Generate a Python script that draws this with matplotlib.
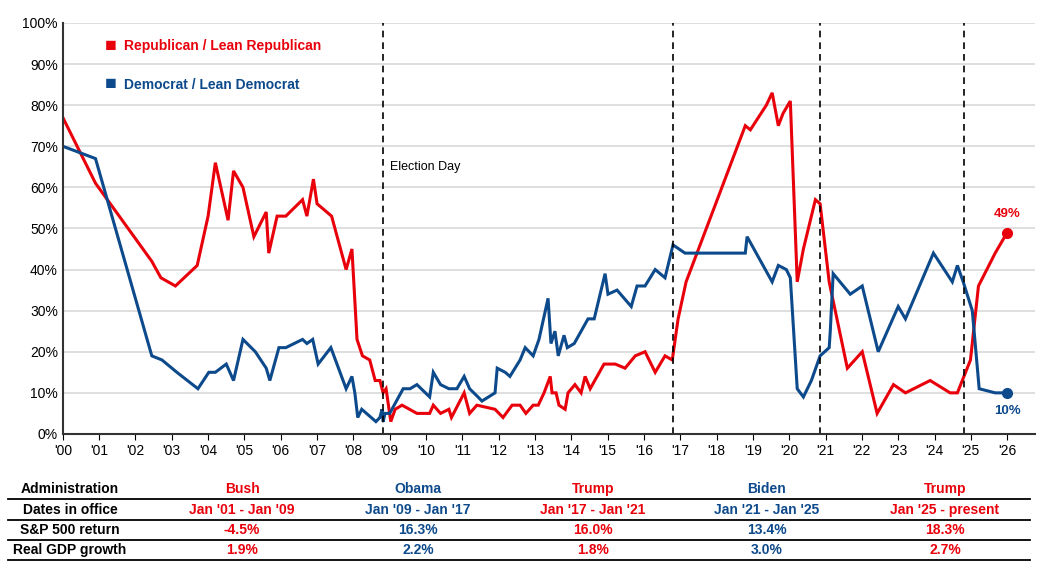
import matplotlib
matplotlib.use("Agg")
import matplotlib.pyplot as plt

plt.rcParams['font.family'] = ['Liberation Sans', 'DejaVu Sans']

RED = '#e8000b'
BLUE = '#0d4a8c'

rep_x = [2000.0, 2000.9, 2002.45, 2002.7, 2003.1, 2003.7, 2004.0, 2004.2, 2004.55, 2004.7, 2004.96,
         2005.26, 2005.6, 2005.67, 2005.9, 2006.14, 2006.6, 2006.72, 2006.9, 2007.0, 2007.4, 2007.8,
         2007.96, 2008.1, 2008.25, 2008.45, 2008.6, 2008.73, 2008.82, 2008.9, 2009.03, 2009.15, 2009.34,
         2009.75, 2010.1, 2010.2, 2010.4, 2010.63, 2010.7, 2011.05, 2011.2, 2011.4, 2011.9, 2012.12,
         2012.37, 2012.59, 2012.75, 2012.95, 2013.09, 2013.25, 2013.42, 2013.47, 2013.58, 2013.66,
         2013.83, 2013.91, 2014.10, 2014.27, 2014.38, 2014.52, 2014.71, 2014.90, 2015.21, 2015.48,
         2015.76, 2016.03, 2016.31, 2016.58, 2016.78, 2016.94, 2017.16, 2018.79, 2018.93, 2019.37,
         2019.53, 2019.70, 2019.83, 2020.03, 2020.22, 2020.39, 2020.72, 2020.85, 2021.1, 2021.6,
         2022.01, 2022.42, 2022.87, 2023.2, 2023.88, 2024.43, 2024.63, 2024.99, 2025.21, 2025.67, 2026.0]
rep_y = [77, 61, 42, 38, 36, 41, 53, 66, 52, 64, 60,
         48, 54, 44, 53, 53, 57, 53, 62, 56, 53, 40,
         45, 23, 19, 18, 13, 13, 10, 11, 3, 6, 7,
         5, 5, 7, 5, 6, 4, 10, 5, 7, 6, 4,
         7, 7, 5, 7, 7, 10, 14, 10, 10, 7,
         6, 10, 12, 10, 14, 11, 14, 17, 17, 16,
         19, 20, 15, 19, 18, 28, 37, 75, 74, 80,
         83, 75, 78, 81, 37, 45, 57, 56, 37, 16,
         20, 5, 12, 10, 13, 10, 10, 18, 36, 44, 49]

dem_x = [2000.0, 2000.9, 2002.45, 2002.73, 2003.14, 2003.72, 2004.02, 2004.2, 2004.5, 2004.7, 2004.96,
         2005.3, 2005.6, 2005.7, 2005.95, 2006.14, 2006.6, 2006.72, 2006.88, 2007.03, 2007.38, 2007.8,
         2007.96, 2008.04, 2008.12, 2008.23, 2008.62, 2008.73, 2008.79, 2008.82, 2008.87, 2009.0,
         2009.37, 2009.56, 2009.75, 2010.1, 2010.2, 2010.4, 2010.63, 2010.85, 2011.05, 2011.2, 2011.43,
         2011.54, 2011.9, 2011.96, 2012.18, 2012.31, 2012.59, 2012.73, 2012.95, 2013.11, 2013.36,
         2013.44, 2013.55, 2013.64, 2013.80, 2013.89, 2014.08, 2014.46, 2014.63, 2014.93, 2015.01,
         2015.26, 2015.65, 2015.81, 2016.03, 2016.31, 2016.58, 2016.8, 2017.13, 2018.79, 2018.84,
         2019.53, 2019.70, 2019.92, 2020.03, 2020.22, 2020.39, 2020.61, 2020.85, 2021.1, 2021.13,
         2021.21, 2021.68, 2022.01, 2022.45, 2023.0, 2023.2, 2023.97, 2024.49, 2024.63, 2024.79,
         2025.04, 2025.23, 2025.67, 2026.0]
dem_y = [70, 67, 19, 18, 15, 11, 15, 15, 17, 13, 23,
         20, 16, 13, 21, 21, 23, 22, 23, 17, 21, 11,
         14, 10, 4, 6, 3, 4, 6, 3, 5, 5,
         11, 11, 12, 9, 15, 12, 11, 11, 14, 11, 9,
         8, 10, 16, 15, 14, 18, 21, 19, 23, 33,
         22, 25, 19, 24, 21, 22, 28, 28, 39, 34,
         35, 31, 36, 36, 40, 38, 46, 44, 44, 48,
         37, 41, 40, 38, 11, 9, 13, 19, 21, 25,
         39, 34, 36, 20, 31, 28, 44, 37, 41, 37,
         30, 11, 10, 10]

year_ticks = list(range(2000, 2027))
year_labels = ["'%02d" % (y % 100) for y in year_ticks]
elections = [2008.82, 2016.8, 2020.85, 2024.8]

rows = ['Administration', 'Dates in office', 'S&P 500 return', 'Real GDP growth']
admins = ['Bush', 'Obama', 'Trump', 'Biden', 'Trump']
dates = ["Jan '01 - Jan '09", "Jan '09 - Jan '17", "Jan '17 - Jan '21", "Jan '21 - Jan '25", "Jan '25 - present"]
sp500 = ['-4.5%', '16.3%', '16.0%', '13.4%', '18.3%']
gdp = ['1.9%', '2.2%', '1.8%', '3.0%', '2.7%']
admin_colors = [RED, BLUE, RED, BLUE, RED]

fig = plt.figure(figsize=(10.47, 5.74), dpi=100)
ax = fig.add_axes([0.06, 0.244, 0.929, 0.716])
ax.plot(rep_x, rep_y, color=RED, lw=2.2, solid_joinstyle='miter')
ax.plot(dem_x, dem_y, color=BLUE, lw=2.2, solid_joinstyle='miter')
ax.plot([rep_x[-1]], [rep_y[-1]], 'o', color=RED, ms=7)
ax.plot([dem_x[-1]], [dem_y[-1]], 'o', color=BLUE, ms=7)
ax.text(rep_x[-1], rep_y[-1] + 3, '%d%%' % rep_y[-1], color=RED, fontsize=9.5, fontweight='bold', ha='center', va='bottom')
ax.text(dem_x[-1], dem_y[-1] - 3, '%d%%' % dem_y[-1], color=BLUE, fontsize=9.5, fontweight='bold', ha='center', va='top')
for e in elections:
    ax.axvline(e, color='black', lw=1.2, ls=(0, (4, 3)))
ax.text(2009.0, 65, 'Election Day', fontsize=9, va='center')

ax.set_xlim(2000, 2026.78)
ax.set_ylim(0, 100)
ax.set_yticks(range(0, 101, 10))
ax.set_yticklabels(['%d%%' % v for v in range(0, 101, 10)], fontsize=10)
ax.set_xticks(year_ticks)
ax.set_xticklabels(year_labels, fontsize=10)
ax.tick_params(axis='y', length=0)
ax.tick_params(axis='x', length=4, direction='out')
ax.grid(axis='y', color='#d9d9d9', lw=1.2)
ax.set_axisbelow(True)
for s in ['top', 'right']:
    ax.spines[s].set_visible(False)
ax.spines['left'].set_color('#333333')
ax.spines['bottom'].set_color('#333333')
ax.spines['left'].set_linewidth(1.5)
ax.spines['bottom'].set_linewidth(1.5)

# legend
fig.text(111 / 1047, 1 - 46 / 574, '\u25A0', color=RED, fontsize=14, ha='center', va='center')
fig.text(124 / 1047, 1 - 46 / 574, 'Republican / Lean Republican', color=RED, fontsize=10, fontweight='bold', va='center')
fig.text(111 / 1047, 1 - 85 / 574, '\u25A0', color=BLUE, fontsize=14, ha='center', va='center')
fig.text(124 / 1047, 1 - 85 / 574, 'Democrat / Lean Democrat', color=BLUE, fontsize=10, fontweight='bold', va='center')

# table
row_y = [489, 510, 530, 550]
col_x = [242, 418, 593, 767, 945]
for i, (r, y) in enumerate(zip(rows, row_y)):
    fig.text(70 / 1047, 1 - y / 574, r, fontsize=10, fontweight='bold', ha='center', va='center')
    vals = [admins, dates, sp500, gdp][i]
    for v, cx, c in zip(vals, col_x, admin_colors):
        fig.text(cx / 1047, 1 - y / 574, v, fontsize=10, fontweight='bold', color=c, ha='center', va='center')
    ly = 1 - (y + 10) / 574
    fig.add_artist(plt.Line2D([8 / 1047, 1030 / 1047], [ly, ly], color='black', lw=1.3, transform=fig.transFigure))

fig.savefig('out.png', dpi=100)
